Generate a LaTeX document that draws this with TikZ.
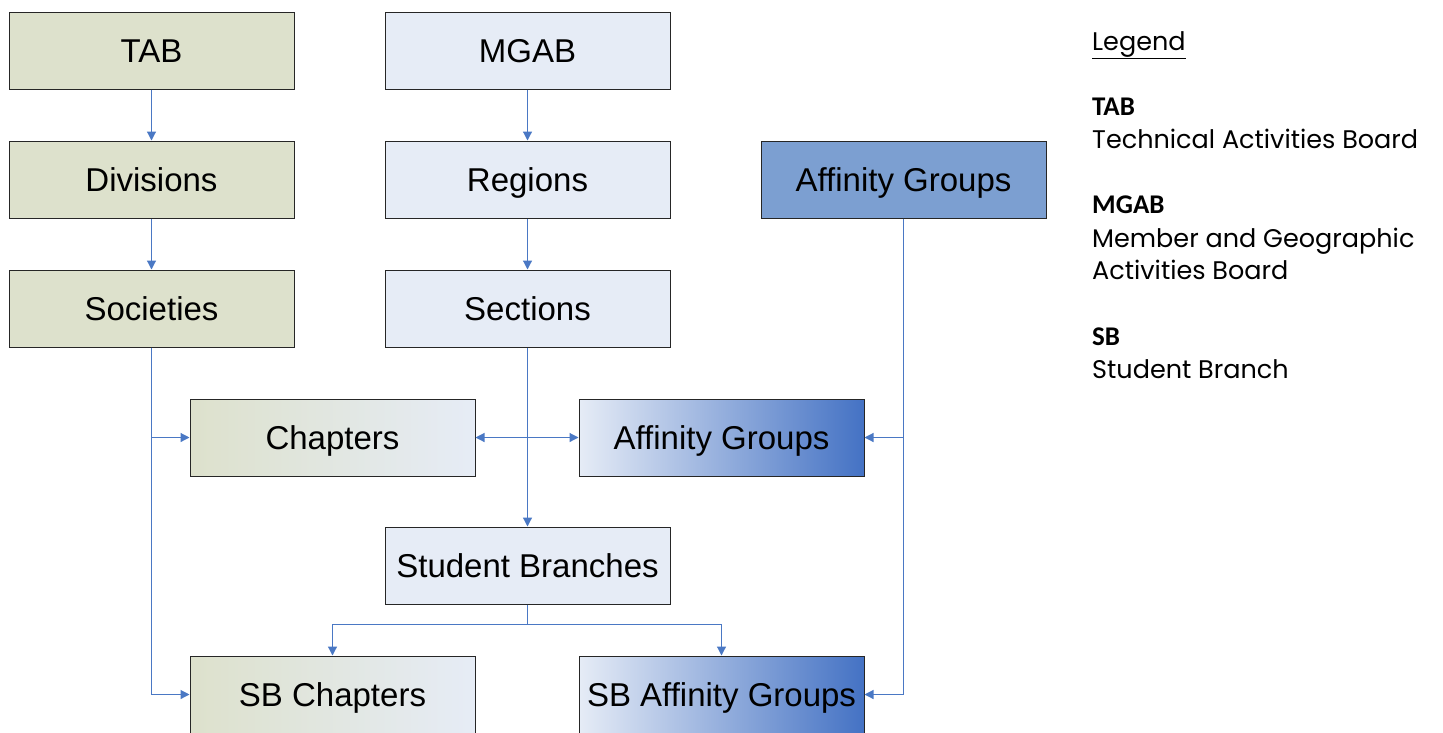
\documentclass[tikz,border=0pt]{standalone}
\usepackage{fontspec}
\setmainfont{Liberation Sans}
\newfontfamily\legfont{Poppins}
\newfontfamily\legbold{Carlito}[BoldFont={Carlito Bold}]
\usetikzlibrary{arrows.meta,calc}
\definecolor{olivefill}{RGB}{221,225,204}
\definecolor{paleblue}{RGB}{230,236,246}
\definecolor{midblue}{RGB}{124,159,209}
\definecolor{deepblue}{RGB}{68,114,196}
\definecolor{linkblue}{RGB}{74,120,196}
\tikzset{
  box/.style={draw=black!85, line width=1pt, minimum width=285pt, minimum height=77pt,
    inner sep=0pt, text height=23.6pt, text depth=0pt, font=\fontsize{33}{36}\selectfont},
  tabbox/.style={box, fill=olivefill},
  mgbox/.style={box, fill=paleblue},
  affbox/.style={box, fill=midblue},
  chapbox/.style={box, left color=olivefill, right color=paleblue},
  affgrad/.style={box, left color=paleblue, right color=deepblue},
  conn/.style={draw=linkblue, line width=1.2pt, -{Triangle[length=9pt,width=9pt]}},
  plain/.style={draw=linkblue, line width=1.2pt},
  legtxt/.style={anchor=base west, inner sep=0pt, font=\legfont\fontsize{25.5}{32}\selectfont},
  leghead/.style={anchor=base west, inner sep=0pt, font=\legbold\bfseries\fontsize{27}{32}\selectfont},
}
\begin{document}
\begin{tikzpicture}[x=1pt,y=-1pt]
\useasboundingbox (0,0) rectangle (1443,732);
% boxes
\node[tabbox] (tab) at (151.5,50.5) {TAB};
\node[mgbox] (mgab) at (527.5,50.5) {MGAB};
\node[tabbox] (div) at (151.5,179.5) {Divisions};
\node[mgbox] (reg) at (527.5,179.5) {Regions};
\node[affbox] (aff1) at (903.5,179.5) {Affinity Groups};
\node[tabbox] (soc) at (151.5,308.5) {Societies};
\node[mgbox] (sec) at (527.5,308.5) {Sections};
\node[chapbox] (chap) at (332.5,437.5) {Chapters};
\node[affgrad] (aff2) at (721.5,437.5) {Affinity Groups};
\node[mgbox] (sbr) at (527.5,565.5) {Student Branches};
\node[chapbox] (sbchap) at (332.5,694.5) {SB Chapters};
\node[affgrad] (sbaff) at (721.5,694.5) {SB Affinity Groups};
% connectors
\draw[conn] (tab) -- (div);
\draw[conn] (div) -- (soc);
\draw[conn] (mgab) -- (reg);
\draw[conn] (reg) -- (sec);
\draw[conn] (sec) -- (sbr);
\coordinate (j1) at (sec.south |- chap.east);
\draw[conn] (j1) -- (chap.east);
\draw[conn] (j1) -- (aff2.west);
\draw[conn] (soc.south) |- (chap.west);
\draw[conn] (soc.south) |- (sbchap.west);
\draw[conn] (aff1.south) |- (aff2.east);
\draw[conn] (aff1.south) |- (sbaff.east);
\coordinate (j2) at ($(sbr.south)+(0,20)$);
\draw[plain] (sbr.south) -- (j2);
\draw[conn] (j2) -| (sbchap.north);
\draw[conn] (j2) -| (sbaff.north);
% legend
\node[legtxt] (leg) at (1092,50) {\underline{Legend}};
\node[leghead] (l1) at (1092,115) {TAB};
\node[legtxt] (l1t) at (1092,148) {Technical Activities Board};
\node[leghead] (l2) at (1092,213) {MGAB};
\node[legtxt] (l2t) at (1092,247) {Member and Geographic};
\node[legtxt] (l2u) at (1092,279) {Activities Board};
\node[leghead] (l3) at (1092,345) {SB};
\node[legtxt] (l3t) at (1092,378) {Student Branch};
\end{tikzpicture}
\end{document}
